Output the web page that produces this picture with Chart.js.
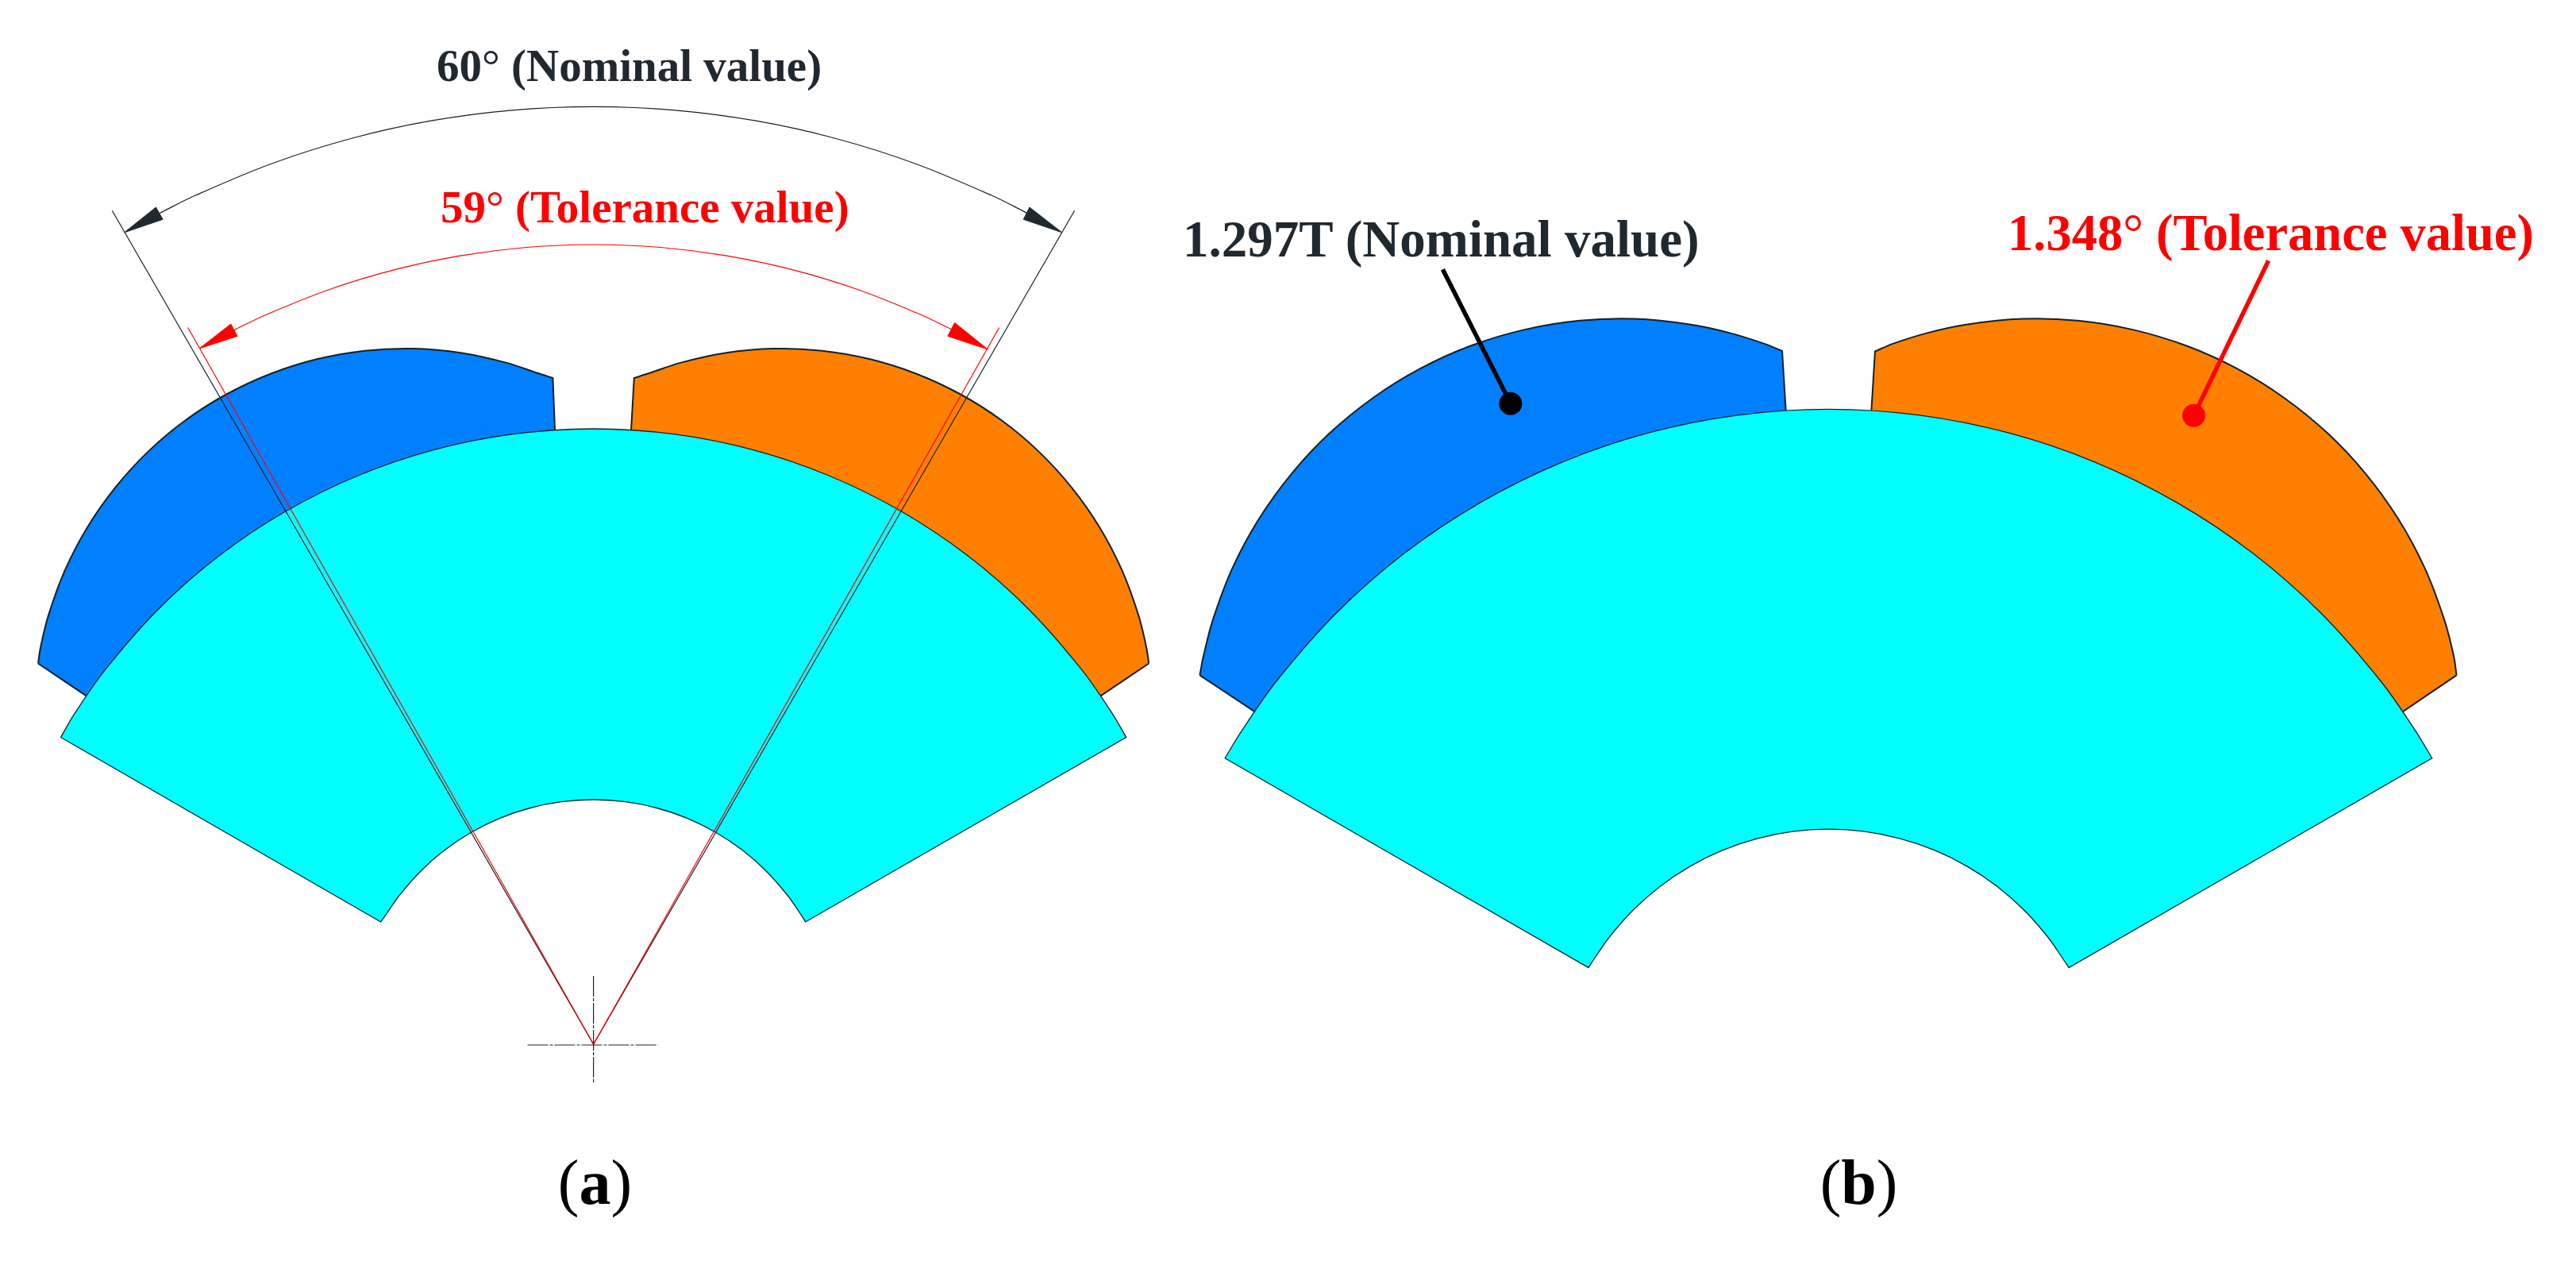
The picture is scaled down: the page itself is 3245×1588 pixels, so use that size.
<!DOCTYPE html>
<html>
<head>
<meta charset="utf-8">
<title>Magnet tolerance</title>
<script src="https://cdn.jsdelivr.net/npm/chart.js@4"></script>
<style>
  html, body { margin: 0; padding: 0; background: #fff; }
  #wrap { position: relative; width: 3245px; height: 1588px; overflow: hidden; }
  .lab { position: absolute; white-space: nowrap; line-height: 1; font-family: "Liberation Serif", serif; font-weight: bold; }
  .lab span { font-weight: normal; }
</style>
</head>
<body>
<div id="wrap"><canvas id="fig" width="3245" height="1588"></canvas></div>
<script>
// everything, in picture pixels. corners are listed twice so the curve stays sharp there
const magnetLeftA = [[48,835.5],[51.1,815.3],[60.8,775.6],[81.8,718.2],[110.1,663.9],[145.3,613.8],[186.7,568.6],[233.6,529.3],[285.3,496.5],[340.8,470.7],[399.2,452.3],[459.5,441.7],[520.6,439.1],[581.6,444.5],[638.2,456.9],[676.9,469.8],[696.4,476],[696.4,476],[699,541.5],[699,541.5],[108.7,876.4],[108.7,876.4],[48,835.5]];
const magnetRightA = [[1447.2,835.5],[1444.1,815.3],[1434.4,775.6],[1413.4,718.2],[1385.1,663.9],[1349.9,613.8],[1308.5,568.6],[1261.6,529.3],[1209.9,496.5],[1154.4,470.7],[1096,452.3],[1035.7,441.7],[974.6,439.1],[913.6,444.5],[857,456.9],[818.3,469.8],[798.8,476],[798.8,476],[795,542],[795,542],[1386.5,876.4],[1386.5,876.4],[1447.2,835.5]];
const rotorA = [[76.5,928.5],[94,898.6],[132.7,843.2],[199.6,767],[275.8,700.1],[360.1,643.8],[451,599],[547,566.4],[646.5,546.7],[747.6,540],[848.7,546.7],[948.2,566.4],[1044.2,599],[1135.1,643.8],[1219.4,700.1],[1295.6,767],[1362.5,843.2],[1401.2,898.6],[1418.7,928.5],[1418.7,928.5],[1014.7,1161],[1014.7,1161],[1007.4,1149.5],[992,1127.5],[965.4,1097.2],[935.1,1070.6],[901.6,1048.3],[865.5,1030.4],[827.3,1017.5],[787.8,1009.7],[747.6,1007],[707.4,1009.7],[667.9,1017.5],[629.7,1030.4],[593.6,1048.3],[560.1,1070.6],[529.8,1097.2],[503.2,1127.5],[487.8,1149.5],[479.6,1161],[479.6,1161],[76.5,928.5]];

const magnetLeftB = [[1511.4,850.3],[1515.9,826.8],[1527.6,781.4],[1552.4,715.7],[1585.7,653.8],[1626.8,596.8],[1674.9,545.6],[1729.4,501.2],[1789.1,464.2],[1853.2,435.3],[1920.4,415.1],[1989.8,403.8],[2060,401.6],[2129.9,408.7],[2178.5,419.1],[2223.3,433.1],[2245,442],[2245,442],[2249.7,518.3],[2249.7,518.3],[1580.3,896],[1580.3,896],[1511.4,850.3]];
const magnetRightB = [[3094.5,850.3],[3091.1,826.8],[3079.4,781.4],[3054.6,715.7],[3021.3,653.8],[2980.2,596.8],[2932.1,545.6],[2877.6,501.2],[2817.9,464.2],[2753.8,435.3],[2686.6,415.1],[2617.2,403.8],[2547,401.6],[2477.1,408.7],[2428.5,419.1],[2383.7,433.1],[2362,442.5],[2362,442.5],[2357.3,518.7],[2357.3,518.7],[3026.3,896.5],[3026.3,896.5],[3094.5,850.3]];
const rotorB = [[1543,954.8],[1563.5,921.3],[1607.4,858.5],[1683.1,772.3],[1769.3,696.6],[1864.8,632.9],[1967.7,582.1],[2076.4,545.2],[2189,522.8],[2303.5,515.3],[2418,522.8],[2530.6,545.2],[2639.3,582.1],[2742.2,632.9],[2837.7,696.6],[2923.9,772.3],[2999.6,858.5],[3043.5,921.3],[3063.7,954.8],[3063.7,954.8],[2606.2,1218.6],[2606.2,1218.6],[2597.4,1205.5],[2580,1180.5],[2549.9,1146.3],[2515.7,1116.2],[2477.75,1090.9],[2436.9,1070.7],[2393.7,1056.1],[2349,1047.2],[2303.5,1044.2],[2258,1047.2],[2213.3,1056.1],[2170.1,1070.7],[2129.25,1090.9],[2091.3,1116.2],[2057.1,1146.3],[2027,1180.5],[2009.6,1205.5],[2001,1218.6],[2001,1218.6],[1543,954.8]];

const nominalArc = [[200.5,268.7],[246.7,245.8],[341.8,206.2],[442,174.5],[542.6,152.2],[644.6,138.8],[747.6,134.3],[850.6,138.8],[952.6,152.2],[1053.2,174.5],[1153.4,206.2],[1248.5,245.8],[1294.7,268.7]];
const toleranceArc = [[295,415.6],[334.8,396.5],[416.4,364],[497.2,339.6],[579.6,322.1],[663.3,311.5],[747.6,308],[831.9,311.5],[915.6,322.1],[998,339.6],[1078.8,364],[1160.4,396.5],[1200,415.6]];
const nominalRays = [[141.3,265.2],[747.6,1315],[1353.6,265.2]];
const toleranceRays = [[236.7,412.5],[747.6,1315],[1258.7,412.5]];
const crossH = [[664.5,1316],[829,1316]];
const crossV = [[747.6,1229],[747.6,1365]];

const nominalHeads = [
  [[156.6,292.8],[196.4,261],[205.1,276.3],[156.6,292.8]],
  [[1337.8,292.8],[1296.9,261],[1289.3,276.3],[1337.8,292.8]]
];
const toleranceHeads = [
  [[251,439],[290.8,408],[299,423.3],[251,439]],
  [[1244.4,440],[1202.6,406.4],[1193.9,423.3],[1244.4,440]]
];

const nominalLeader = [[1817.4,339.3],[1902.9,508.3]];
const toleranceLeader = [[2857.6,328.3],[2763.5,523.3]];
const nominalDot = [[1902.9,508.3]];
const toleranceDot = [[2763.5,523.3]];

const labelTexts = [
  '60<span>°</span> (Nominal value)',
  '59<span>°</span> (Tolerance value)',
  '1.297T (Nominal value)',
  '1.348<span>°</span> (Tolerance value)',
  '<span>(</span>a<span>)</span>',
  '<span>(</span>b<span>)</span>'
];
const labelX = [550, 555, 1490, 2529, 702.8, 2292.7];
const labelBase = [101.5, 279.4, 323.3, 316, 1515.5, 1516];
const labelSize = [57, 57, 65, 64.5, 80, 80];
const labelColor = ['#212930', '#ff0000', '#212930', '#ff0000', '#000000', '#000000'];

const BLUE = '#0080ff', ORANGE = '#ff8000', CYAN = '#00ffff', EDGE = '#14202a', RED = '#ff0000', DARK = '#212930';
const ROUND = 0.338;

function shape(data, fill, edge, width, tension) {
  return { data, showLine: true, fill: 'shape', backgroundColor: fill, borderColor: edge, borderWidth: width, tension: tension || 0, pointRadius: 0, borderJoinStyle: 'miter' };
}
function line(data, color, width, tension, dash) {
  return { data, showLine: true, fill: false, borderColor: color, borderWidth: width, tension: tension || 0, pointRadius: 0, borderDash: dash || [] };
}
function dot(data, color) {
  return { data, showLine: false, pointRadius: 14.5, pointBackgroundColor: color, pointBorderWidth: 0 };
}

// listed bottom to top, chart.js draws index 0 last so it gets flipped below
const layers = [
  shape(magnetLeftA, BLUE, EDGE, 2, ROUND),
  shape(magnetRightA, ORANGE, EDGE, 2, ROUND),
  shape(rotorA, CYAN, EDGE, 1.3, ROUND),
  shape(magnetLeftB, BLUE, EDGE, 2, ROUND),
  shape(magnetRightB, ORANGE, EDGE, 2, ROUND),
  shape(rotorB, CYAN, EDGE, 1.3, ROUND),
  line(nominalRays, EDGE, 1.2),
  line(toleranceRays, RED, 1.2),
  line(crossH, '#222', 1.2, 0, [26, 2, 4, 2]),
  line(crossV, '#222', 1.2, 0, [26, 2, 4, 2]),
  line(nominalArc, EDGE, 1.2, ROUND),
  line(toleranceArc, RED, 1.2, ROUND),
  shape(nominalHeads[0], DARK, DARK, 1),
  shape(nominalHeads[1], DARK, DARK, 1),
  shape(toleranceHeads[0], RED, RED, 1),
  shape(toleranceHeads[1], RED, RED, 1),
  line(nominalLeader, '#000', 5.5),
  line(toleranceLeader, RED, 5.5),
  dot(nominalDot, '#000'),
  dot(toleranceDot, RED)
];

const chart = new Chart(document.getElementById('fig'), {
  type: 'scatter',
  data: { datasets: layers.reverse() },
  options: {
    responsive: false,
    devicePixelRatio: 1,
    animation: false,
    events: [],
    layout: { padding: 0, autoPadding: false },
    plugins: { legend: { display: false }, tooltip: { enabled: false } },
    scales: {
      x: { type: 'linear', min: 0, max: 3245, display: false },
      y: { type: 'linear', min: 0, max: 1588, reverse: true, display: false }
    }
  }
});

// labels are plain page text, placed through the same scales
labelTexts.forEach((t, i) => {
  const el = document.createElement('div');
  el.className = 'lab';
  el.innerHTML = t;
  el.style.left = chart.scales.x.getPixelForValue(labelX[i]) + 'px';
  el.style.top = (chart.scales.y.getPixelForValue(labelBase[i]) - 0.8375 * labelSize[i]) + 'px';
  el.style.fontSize = labelSize[i] + 'px';
  el.style.color = labelColor[i];
  document.getElementById('wrap').appendChild(el);
});
</script>
</body>
</html>
